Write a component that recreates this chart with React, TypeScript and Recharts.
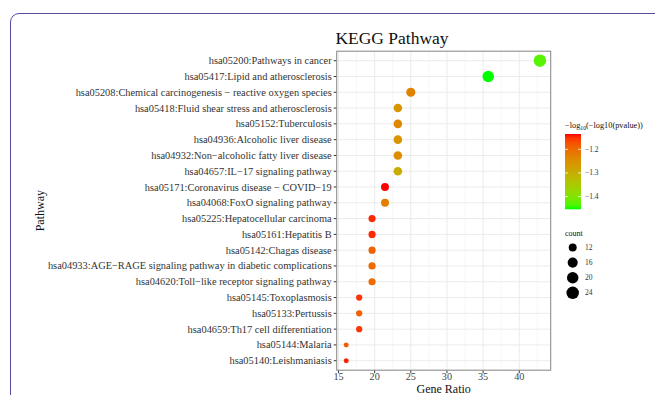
import React from 'react';
import { ScatterChart, Scatter, XAxis, YAxis, ZAxis, CartesianGrid, Cell } from 'recharts';

const pathways = [
  'hsa05200:Pathways in cancer',
  'hsa05417:Lipid and atherosclerosis',
  'hsa05208:Chemical carcinogenesis \u2212 reactive oxygen species',
  'hsa05418:Fluid shear stress and atherosclerosis',
  'hsa05152:Tuberculosis',
  'hsa04936:Alcoholic liver disease',
  'hsa04932:Non\u2212alcoholic fatty liver disease',
  'hsa04657:IL\u221217 signaling pathway',
  'hsa05171:Coronavirus disease \u2212 COVID\u221219',
  'hsa04068:FoxO signaling pathway',
  'hsa05225:Hepatocellular carcinoma',
  'hsa05161:Hepatitis B',
  'hsa05142:Chagas disease',
  'hsa04933:AGE\u2212RAGE signaling pathway in diabetic complications',
  'hsa04620:Toll\u2212like receptor signaling pathway',
  'hsa05145:Toxoplasmosis',
  'hsa05133:Pertussis',
  'hsa04659:Th17 cell differentiation',
  'hsa05144:Malaria',
  'hsa05140:Leishmaniasis',
];
const geneRatio = [42.86, 35.71, 25.0, 23.21, 23.21, 23.21, 23.21, 23.21, 21.43, 21.43, 19.64, 19.64, 19.64, 19.64, 19.64, 17.86, 17.86, 17.86, 16.07, 16.07];
const counts = [24, 20, 14, 13, 13, 13, 13, 13, 12, 12, 11, 11, 11, 11, 11, 10, 10, 10, 9, 9];
const logLogP = [-1.43, -1.454, -1.232, -1.262, -1.238, -1.258, -1.248, -1.298, -1.135, -1.225, -1.145, -1.145, -1.19, -1.2, -1.2, -1.152, -1.19, -1.152, -1.183, -1.142];
const xTicks = [15, 20, 25, 30, 35, 40];
const xMinor = [17.5, 22.5, 27.5, 32.5, 37.5, 42.5];
const colorTicks = [-1.2, -1.3, -1.4];
const sizeTicks = [12, 16, 20, 24];

const data = pathways.map((p, i) => ({ pathway: p, ratio: geneRatio[i], count: counts[i], v: logLogP[i] }));

const W = 655;
const H = 395;
const PLOT_LEFT = 336.7;
const PLOT_RIGHT = 550.7;
const PLOT_TOP = 51.2;
const PLOT_BOTTOM = 370.2;
const XAXIS_H = H - PLOT_BOTTOM;
const FONT = '"Liberation Serif", "DejaVu Serif", serif';

const X_DOMAIN: [number, number] = [14.75, 44.35];
const COUNT_MIN = Math.min(...counts);
const COUNT_MAX = Math.max(...counts);
const AREA_RANGE: [number, number] = [19.6, 122.7];

const V_MIN = Math.min(...logLogP);
const V_MAX = Math.max(...logLogP);

function toLin(c: number) {
  c /= 255;
  return c <= 0.04045 ? c / 12.92 : Math.pow((c + 0.055) / 1.055, 2.4);
}
function fromLin(c: number) {
  const v = c <= 0.0031308 ? 12.92 * c : 1.055 * Math.pow(c, 1 / 2.4) - 0.055;
  return Math.round(Math.max(0, Math.min(1, v)) * 255);
}
function rgb2lab(r: number, g: number, b: number) {
  const R = toLin(r), G = toLin(g), B = toLin(b);
  const X = (0.4124 * R + 0.3576 * G + 0.1805 * B) / 0.95047;
  const Y = 0.2126 * R + 0.7152 * G + 0.0722 * B;
  const Z = (0.0193 * R + 0.1192 * G + 0.9505 * B) / 1.08883;
  const f = (t: number) => (t > 0.008856 ? Math.cbrt(t) : 7.787 * t + 16 / 116);
  const fx = f(X), fy = f(Y), fz = f(Z);
  return [116 * fy - 16, 500 * (fx - fy), 200 * (fy - fz)];
}
function lab2hex(L: number, a: number, b: number) {
  const fy = (L + 16) / 116;
  const fx = fy + a / 500;
  const fz = fy - b / 200;
  const finv = (t: number) => (t * t * t > 0.008856 ? t * t * t : (t - 16 / 116) / 7.787);
  const X = 0.95047 * finv(fx), Y = finv(fy), Z = 1.08883 * finv(fz);
  const R = 3.2406 * X - 1.5372 * Y - 0.4986 * Z;
  const G = -0.9689 * X + 1.8758 * Y + 0.0415 * Z;
  const B = 0.0557 * X - 0.204 * Y + 1.057 * Z;
  const h = (n: number) => fromLin(n).toString(16).padStart(2, '0');
  return '#' + h(R) + h(G) + h(B);
}
const LOW_LAB = rgb2lab(0, 255, 0);
const HIGH_LAB = rgb2lab(255, 0, 0);
function colorFor(v: number) {
  const t = Math.max(0, Math.min(1, (v - V_MIN) / (V_MAX - V_MIN)));
  return lab2hex(
    LOW_LAB[0] + (HIGH_LAB[0] - LOW_LAB[0]) * t,
    LOW_LAB[1] + (HIGH_LAB[1] - LOW_LAB[1]) * t,
    LOW_LAB[2] + (HIGH_LAB[2] - LOW_LAB[2]) * t,
  );
}
function areaFor(c: number) {
  const t = (Math.log(c) - Math.log(COUNT_MIN)) / (Math.log(COUNT_MAX) - Math.log(COUNT_MIN));
  return AREA_RANGE[0] + (AREA_RANGE[1] - AREA_RANGE[0]) * t;
}

const BAR_X = 565;
const BAR_TOP = 134;
const BAR_H = 75.3;
const BAR_W = 16;
const barY = (v: number) => BAR_TOP + ((V_MAX - v) / (V_MAX - V_MIN)) * BAR_H;

function YTick(props: any) {
  const { x, y, payload } = props;
  return (
    <text x={x} y={y} textAnchor="end" dominantBaseline="central" fontFamily={FONT} fontSize={10.4} fill="#333">
      {payload.value}
    </text>
  );
}

function Overlay() {
  const stops = Array.from({ length: 21 }, (_, i) => i / 20);
  return (
    <svg width={W} height={H} style={{ position: 'absolute', left: 0, top: 0, pointerEvents: 'none' }}>
      <defs>
        <linearGradient id="cbar" x1="0" y1="0" x2="0" y2="1">
          {stops.map((s) => (
            <stop key={s} offset={s} stopColor={colorFor(V_MAX - s * (V_MAX - V_MIN))} />
          ))}
        </linearGradient>
      </defs>
      <rect x={PLOT_LEFT} y={PLOT_TOP} width={PLOT_RIGHT - PLOT_LEFT} height={PLOT_BOTTOM - PLOT_TOP} fill="none" stroke="#8a8a8a" strokeWidth={1} />
      <text x={392} y={44} textAnchor="middle" fontFamily={FONT} fontSize={17.5} fill="#111">KEGG Pathway</text>
      <text x={40} y={(PLOT_TOP + PLOT_BOTTOM) / 2} textAnchor="middle" dominantBaseline="central" fontFamily={FONT} fontSize={12} fill="#111" transform={`rotate(-90 40 ${(PLOT_TOP + PLOT_BOTTOM) / 2})`}>Pathway</text>
      <text x={BAR_X} y={128} fontFamily={FONT} fontSize={8.3} fill="#111">
        {'\u2212log'}
        <tspan fontSize={5.8} dy={2}>10</tspan>
        <tspan dy={-2}>{'(\u2212log10(pvalue))'}</tspan>
      </text>
      <rect x={BAR_X} y={BAR_TOP} width={BAR_W} height={BAR_H} fill="url(#cbar)" />
      {colorTicks.map((t) => (
        <g key={t}>
          <line x1={BAR_X} x2={BAR_X + 3} y1={barY(t)} y2={barY(t)} stroke="#fff" strokeWidth={0.8} />
          <line x1={BAR_X + BAR_W - 3} x2={BAR_X + BAR_W} y1={barY(t)} y2={barY(t)} stroke="#fff" strokeWidth={0.8} />
          <text x={585} y={barY(t)} dominantBaseline="central" fontFamily={FONT} fontSize={7.5} fill="#333">
            {'\u2212' + Math.abs(t).toFixed(1)}
          </text>
        </g>
      ))}
      <text x={BAR_X} y={233.3} dominantBaseline="central" fontFamily={FONT} fontSize={8} fill="#111">count</text>
      {sizeTicks.map((c, i) => (
        <g key={c}>
          <circle cx={572.7} cy={247.5 + i * 15.1} r={Math.sqrt(areaFor(c) / Math.PI)} fill="#000" />
          <text x={585} y={247.5 + i * 15.1} dominantBaseline="central" fontFamily={FONT} fontSize={7.5} fill="#333">{c}</text>
        </g>
      ))}
    </svg>
  );
}

export default function App() {
  return (
    <div style={{ position: 'absolute', left: 0, top: 0, width: W, height: H, overflow: 'hidden', background: '#fff', fontFamily: FONT }}>
      <div style={{ position: 'absolute', left: 10, top: 13, width: 720, height: 500, border: '1.5px solid #564ca0', borderRadius: 9, boxSizing: 'border-box' }} />
      <div style={{ position: 'absolute', left: 0, top: 0 }}>
        <ScatterChart width={W} height={H} margin={{ top: PLOT_TOP, right: W - PLOT_RIGHT, bottom: 0, left: 0 }}>
          <CartesianGrid horizontal={false} verticalValues={xMinor} stroke="#f3f3f3" strokeWidth={0.7} />
          <CartesianGrid stroke="#ebebeb" strokeWidth={1} />
          <XAxis
            type="number"
            dataKey="ratio"
            domain={X_DOMAIN}
            ticks={xTicks}
            allowDataOverflow
            height={XAXIS_H}
            tickSize={3}
            tickMargin={0}
            axisLine={false}
            tickLine={{ stroke: '#333' }}
            tick={{ fontSize: 10.2, fill: '#444', fontFamily: FONT }}
            label={{ value: 'Gene Ratio', position: 'insideBottom', offset: 2, fontSize: 12, fill: '#111', fontFamily: FONT }}
          />
          <YAxis
            type="category"
            dataKey="pathway"
            width={PLOT_LEFT}
            reversed
            padding={{ top: 1.6, bottom: 1.6 }}
            interval={0}
            tickSize={3}
            tickMargin={2}
            axisLine={false}
            tickLine={{ stroke: '#333' }}
            tick={<YTick />}
          />
          <ZAxis type="number" dataKey="count" scale="log" domain={[COUNT_MIN, COUNT_MAX]} range={AREA_RANGE} />
          <Scatter data={data} isAnimationActive={false} shape="circle">
            {data.map((d, i) => (
              <Cell key={i} fill={colorFor(d.v)} />
            ))}
          </Scatter>
        </ScatterChart>
      </div>
      <Overlay />
    </div>
  );
}
